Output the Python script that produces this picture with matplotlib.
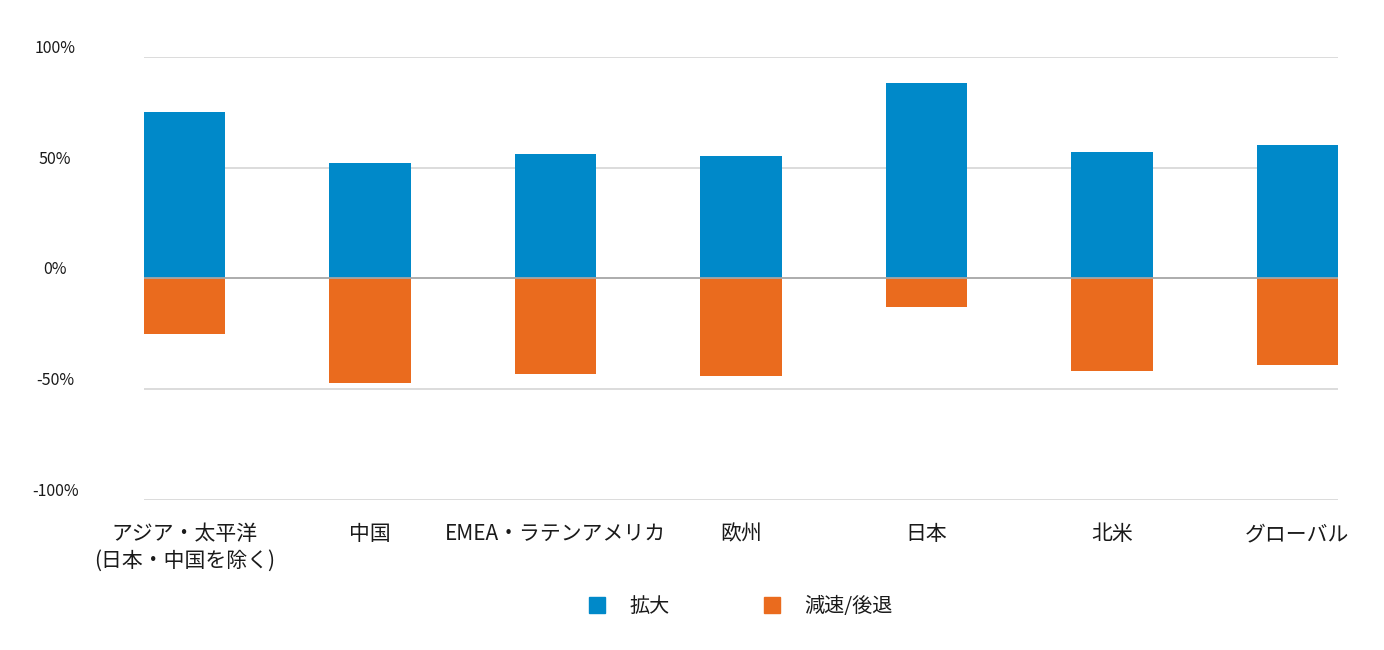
import matplotlib
matplotlib.use("Agg")
import matplotlib.pyplot as plt
from matplotlib.patches import Patch
import numpy as np

plt.rcParams['font.family'] = ['Noto Sans CJK JP', 'DejaVu Sans']

categories = ["アジア・太平洋\n(日本・中国を除く)", "中国", "EMEA・ラテンアメリカ",
              "欧州", "日本", "北米", "グローバル"]
expansion = [75, 52, 56, 55, 88, 57, 60]
slowdown = [-25, -47, -43, -44, -13, -42, -39]
yticks = [-100, -50, 0, 50, 100]
ytick_labels = ["-100%", "-50%", "0%", "50%", "100%"]

BLUE = "#0089c9"
ORANGE = "#ea6b1e"
TXT = "#1a1a1a"

fig = plt.figure(figsize=(13.84, 6.5), dpi=100)
ax = fig.add_axes([144/1384, 1 - 500/650, (1338 - 144)/1384, (500 - 56.7)/650])

x = np.arange(len(categories))
w = 0.437
ax.bar(x, expansion, width=w, color=BLUE, zorder=3)
ax.bar(x, slowdown, width=w, color=ORANGE, zorder=3)

ax.set_xlim(-w/2, len(categories) - 1 + w/2)
ax.set_ylim(-100, 100)
ax.set_yticks(yticks)
ax.set_yticklabels(ytick_labels)
for v in yticks:
    if v == 0:
        ax.axhline(v, color="#a6a6a6", lw=1.3, zorder=4)
    else:
        ax.axhline(v, color="#d9d9d9", lw=1.3, zorder=1)

ax.set_xticks(x)
ax.set_xticklabels(categories, linespacing=1.3, va="top")
ax.tick_params(axis="x", length=0, pad=16.5, labelsize=15, colors=TXT)
ax.tick_params(axis="y", length=0, pad=64, labelsize=11.5, colors=TXT)
for lab in ax.get_yticklabels():
    lab.set_ha("center")
    lab.set_va("bottom")
for s in ax.spines.values():
    s.set_visible(False)

handles = [Patch(color=BLUE, label="拡大"), Patch(color=ORANGE, label="減速/後退")]
ax.legend(handles=handles, loc="center", bbox_to_anchor=(0.5, -0.24), ncol=2,
          frameon=False, fontsize=14.5, handlelength=0.8, handleheight=0.8,
          handletextpad=1.2, columnspacing=4.7, labelcolor=TXT)

fig.savefig("out.png", dpi=100)
